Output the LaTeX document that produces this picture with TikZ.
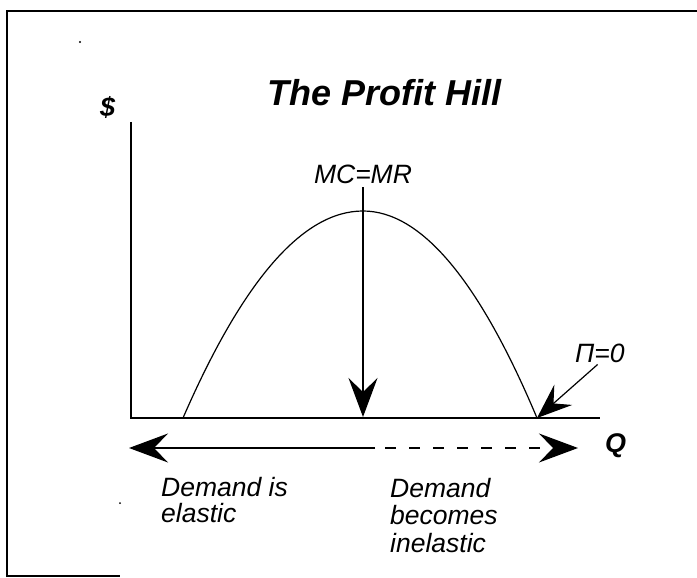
\documentclass[tikz,border=0pt]{standalone}
\usepackage{fontspec}
\setmainfont{Liberation Sans}
\usetikzlibrary{arrows.meta}
\begin{document}
\begin{tikzpicture}[x=1pt,y=-1pt,
  lbl/.style={font=\fontsize{26.5}{26}\selectfont\itshape, inner sep=0pt},
  axislbl/.style={font=\fontsize{27}{27}\selectfont\bfseries\itshape, inner sep=0pt},
  ttl/.style={font=\fontsize{36}{36}\selectfont\bfseries\itshape, inner sep=0pt},
  framestyle/.style={line width=1.4pt},
  axisline/.style={line width=1.5pt},
  curve/.style={line width=1.2pt},
  conn/.style={line width=1.2pt},
  bigtip/.style={-{Stealth[length=39pt,width=29pt,inset=14pt]}},
  pitip/.style={-{Stealth[length=35pt,width=27pt,inset=13pt]}},
  dashpat/.style={dash pattern=on 11pt off 13pt}
]
\useasboundingbox (0,0) rectangle (697,578);
% frame
\draw[framestyle] (7,577) -- (7,11) -- (697,11);
\draw[framestyle] (7,576) -- (120,576);
% specks
\fill (80,42) circle (1.2pt);
\fill (120,503) circle (1pt);
% title
\node[ttl, anchor=base west] (title) at (267,106) {The Profit Hill};
% axes
\coordinate (ytop) at (131,122);
\coordinate (O) at (131,418);
\coordinate (xend) at (600,418);
\draw[axisline] (ytop) -- (O) -- (xend);
\node[axislbl, anchor=base west] (dol) at (100,117) {\$};
\node[axislbl, anchor=base west] (q) at (605,452) {Q};
% hill
\coordinate (h0) at (183,418);
\coordinate (hp) at (363,211);
\coordinate (h1) at (537,418);
\draw[curve] (h0) .. controls (243,280) and (303,211) .. (hp)
                 .. controls (421,211) and (479,280) .. (h1);
% MC=MR
\node[lbl, anchor=base] (mcmr) at (363,183) {MC=MR};
\coordinate (mtip) at (363,417);
\draw[conn, bigtip, shorten <=4pt] (mcmr.south) -- (mtip);
% Pi = 0
\node[lbl, anchor=base west] (pi) at (575,362) {Π=0};
\draw[conn, pitip, shorten <=3pt] (pi.south) -- (h1);
% elasticity arrow
\coordinate (lt) at (129,448);
\coordinate (sm) at (375,448);
\coordinate (dm) at (385,448);
\coordinate (rt) at (578,448);
\draw[conn, bigtip] (sm) -- (lt);
\draw[conn, dashpat, bigtip] (dm) -- (rt);
% texts
\node[lbl, align=left, anchor=north west] (el) at (161,477) {Demand is\\elastic};
\node[lbl, font=\fontsize{26.5}{27.5}\selectfont\itshape, align=left, anchor=north west] (inel) at (390,478) {Demand\\becomes\\inelastic};
\end{tikzpicture}
\end{document}
